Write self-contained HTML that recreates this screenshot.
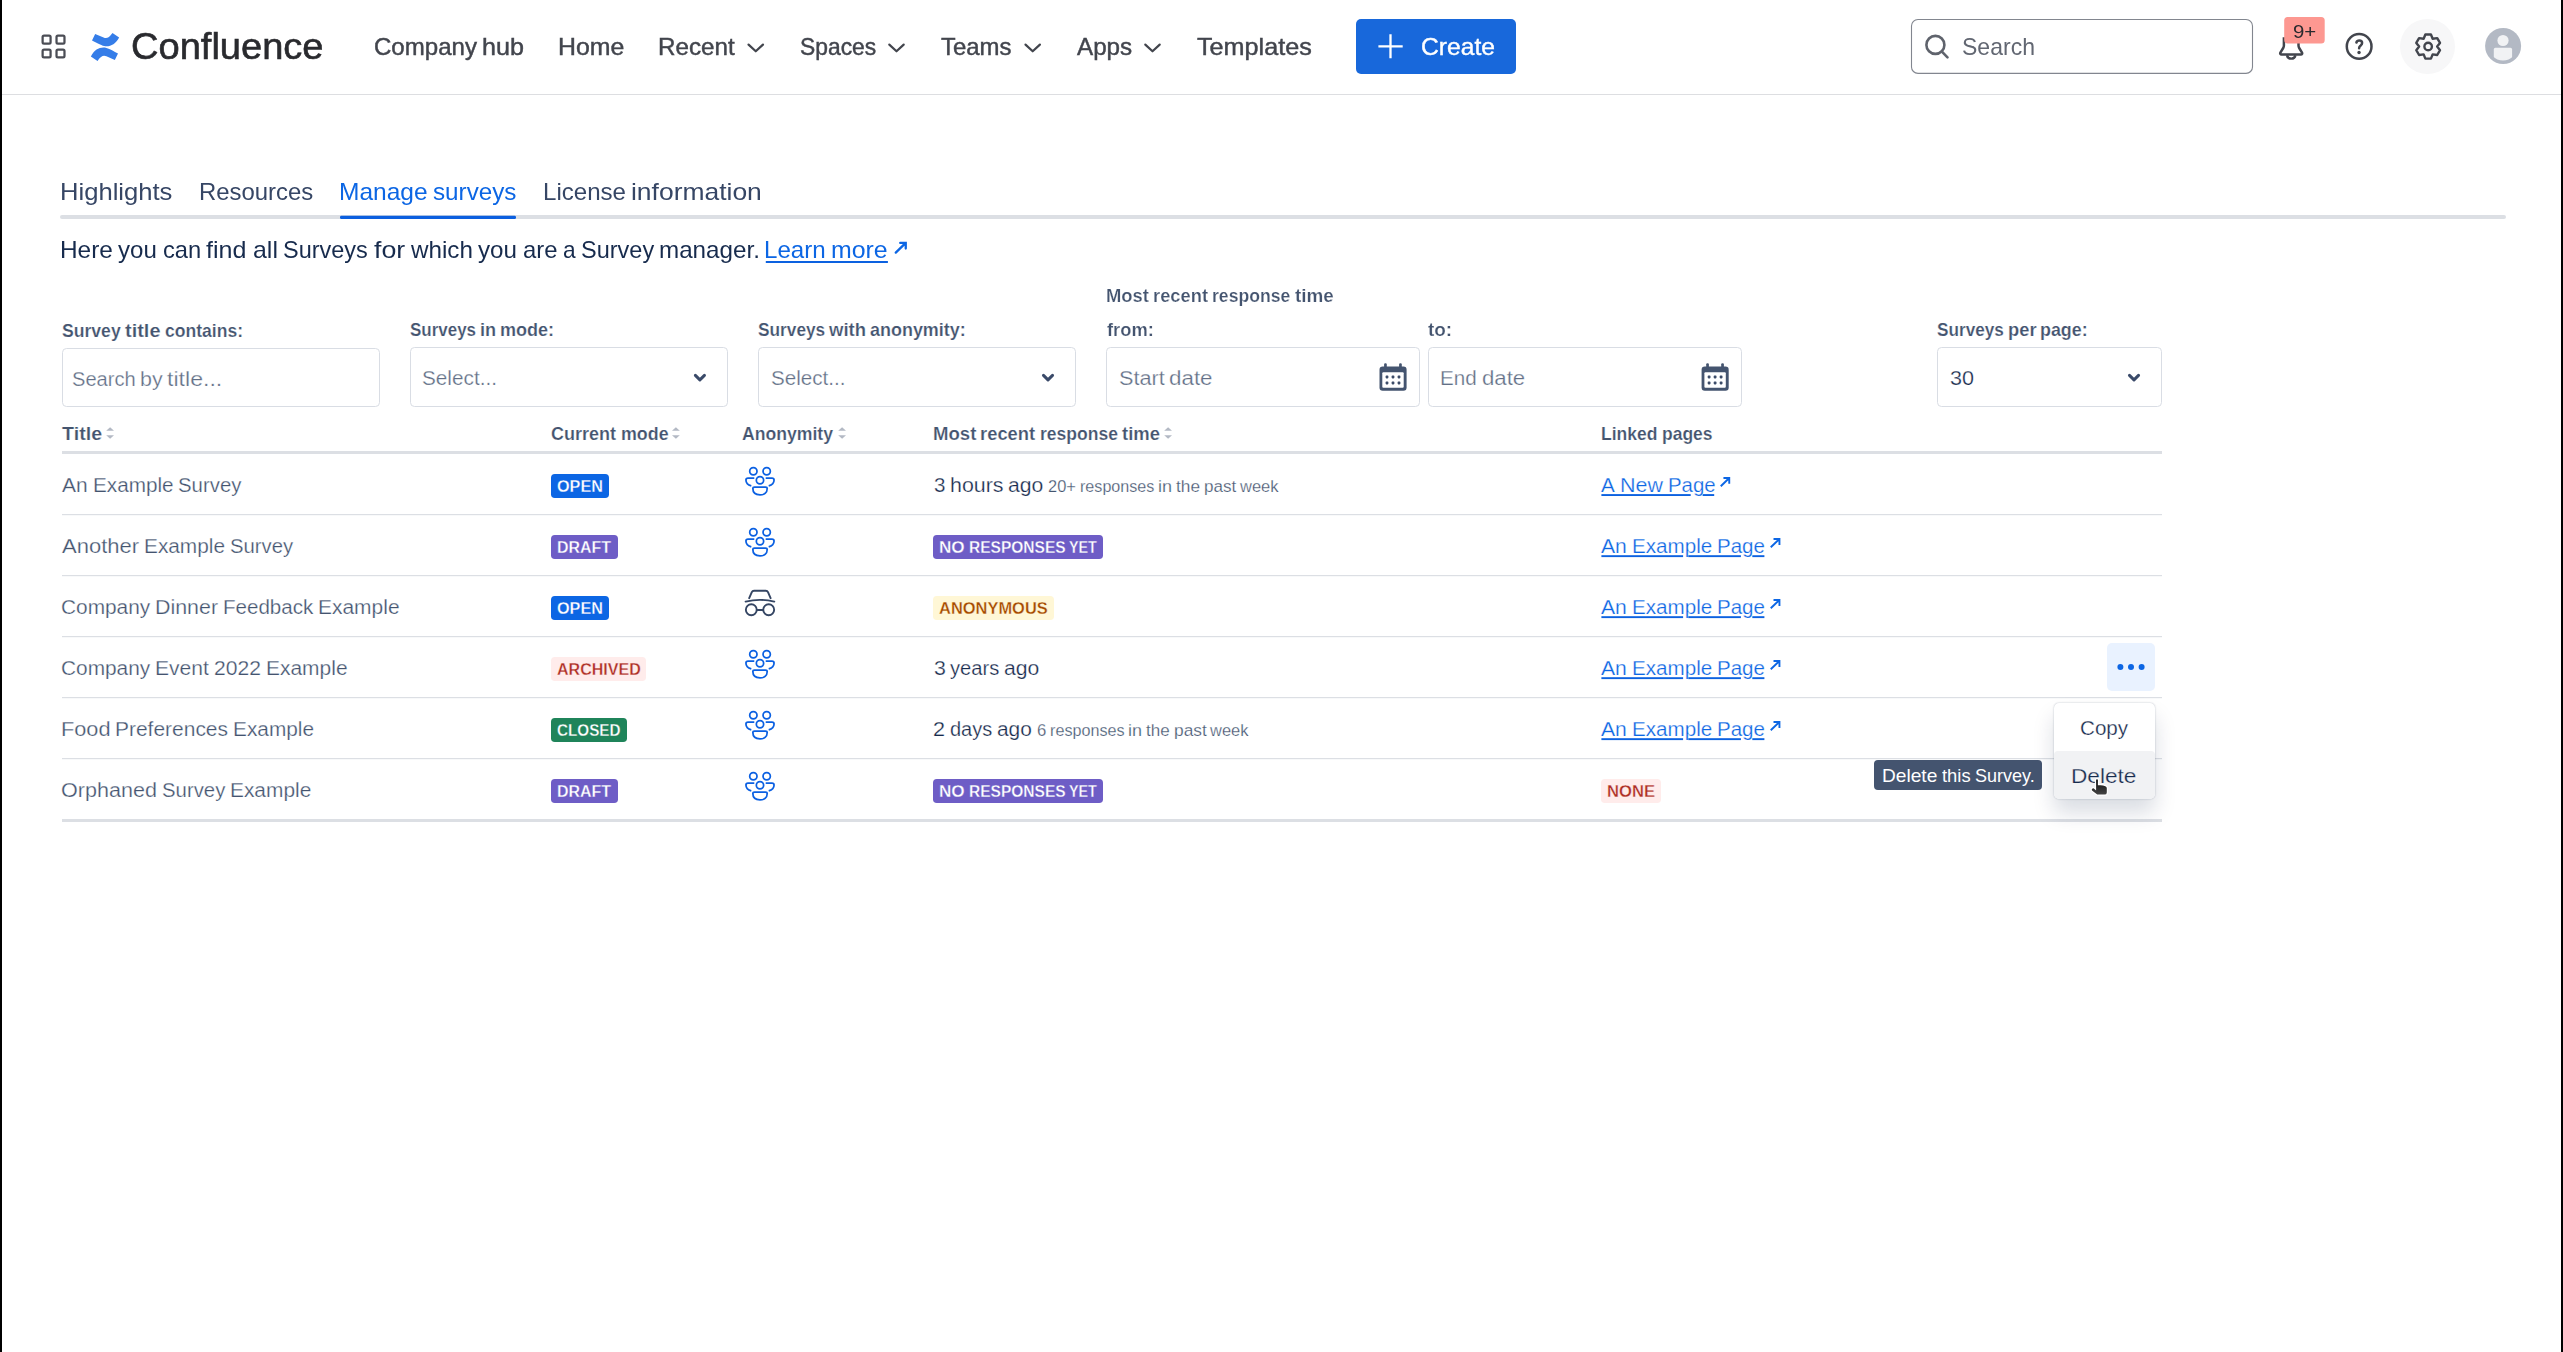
<!DOCTYPE html>
<html lang="en">
<head>
<meta charset="utf-8">
<title>Manage surveys - Confluence</title>
<style>
html,body{margin:0;padding:0;background:#fff;}
body{width:2563px;height:1352px;overflow:hidden;font-family:"Liberation Sans",sans-serif;}
#page{position:relative;width:2563px;height:1352px;overflow:hidden;background:#fff;}
.t{position:absolute;white-space:pre;line-height:1;transform-origin:0 0;font-family:"Liberation Sans",sans-serif;}
.a{position:absolute;}
.box{position:absolute;box-sizing:border-box;border:1.5px solid #d7dbe2;border-radius:5px;background:#fff;}
.bd{position:absolute;border-radius:4px;}
.ln{position:absolute;left:62px;width:2100px;height:1px;background:#dcdfe4;}
svg{position:absolute;overflow:visible;}
</style>
</head>
<body>
<div id="page">
<div class="a" style="left:0px;top:0px;width:2px;height:1352px;background:#000;"></div>
<div class="a" style="left:2561px;top:0px;width:2px;height:1352px;background:#000;"></div>
<div class="a" style="left:2px;top:94px;width:2559px;height:1px;background:#dddee1;"></div>
<svg width="2563" height="1352" viewBox="0 0 2563 1352" style="left:0;top:0" fill="none">
<rect x="42.625" y="35.675" width="7.95" height="7.95" rx="1.4" stroke="#4b4d55" stroke-width="2.25"/>
<rect x="56.525" y="35.675" width="7.95" height="7.95" rx="1.4" stroke="#4b4d55" stroke-width="2.25"/>
<rect x="42.625" y="49.525" width="7.95" height="7.95" rx="1.4" stroke="#4b4d55" stroke-width="2.25"/>
<rect x="56.525" y="49.525" width="7.95" height="7.95" rx="1.4" stroke="#4b4d55" stroke-width="2.25"/>
<path d="M95.15 33.97L103.6 37.6C106.6 38.9 109 37.9 112.5 33L119.15 37.5C115.6 43.6 111.6 46.3 106.5 46.3C103.6 46.3 100.5 44.8 92 40.4Z" fill="#357de8"/>
<path d="M95.15 33.97L103.6 37.6C106.6 38.9 109 37.9 112.5 33L119.15 37.5C115.6 43.6 111.6 46.3 106.5 46.3C103.6 46.3 100.5 44.8 92 40.4Z" fill="#357de8" transform="rotate(180 105 46.95)"/>
<polyline points="748.55,44.6 755.75,51.3 762.95,44.6" stroke="#42454d" stroke-width="2.2" stroke-linecap="round" stroke-linejoin="round"/>
<polyline points="889.3,44.6 896.5,51.3 903.7,44.6" stroke="#42454d" stroke-width="2.2" stroke-linecap="round" stroke-linejoin="round"/>
<polyline points="1025.5,44.6 1032.7,51.3 1039.9,44.6" stroke="#42454d" stroke-width="2.2" stroke-linecap="round" stroke-linejoin="round"/>
<polyline points="1145.3,44.6 1152.5,51.3 1159.7,44.6" stroke="#42454d" stroke-width="2.2" stroke-linecap="round" stroke-linejoin="round"/>
<rect x="1356" y="19" width="160" height="55" rx="5" fill="#1868db"/>
<path d="M1378.4 46.3H1402.7M1390.5 34.3V58.3" stroke="#fff" stroke-width="2.3"/>
<rect x="1911.5" y="19.5" width="341" height="53.9" rx="6.5" fill="#fff" stroke="#82868f" stroke-width="1.1"/>
<circle cx="1935.4" cy="44.9" r="9" stroke="#5f636c" stroke-width="2.6"/>
<path d="M1941.9 51.6L1947.5 57.3" stroke="#5f636c" stroke-width="2.6" stroke-linecap="round"/>
<path d="M2283.9 37.2V45.6C2283.9 46.6 2283.7 47.2 2283.2 48L2280.4 52.6C2279.9 53.5 2280.4 54.6 2281.5 54.6H2300.9C2302 54.6 2302.5 53.5 2302 52.6L2299.2 48C2298.7 47.2 2298.5 46.6 2298.5 45.6V37.2" stroke="#42454d" stroke-width="2.5" stroke-linejoin="round"/>
<path d="M2287 55.2A4.25 4.1 0 0 0 2295.4 55.2" stroke="#42454d" stroke-width="2.4"/>
<rect x="2284.2" y="16.9" width="40.5" height="26.7" rx="3.5" fill="#fd9891"/>
<circle cx="2359.15" cy="46.45" r="12.35" stroke="#42454d" stroke-width="2.5"/>
<path d="M2356.4 42.5C2356.8 41.3 2357.9 40.6 2359.3 40.6C2360.9 40.6 2362.1 41.6 2362.1 43C2362.1 44.3 2361.2 45 2360.3 45.9C2359.6 46.6 2359.1 47.2 2359.1 48.2" stroke="#42454d" stroke-width="2.5" stroke-linecap="round"/>
<circle cx="2359.05" cy="52.5" r="1.7" fill="#42454d"/>
<circle cx="2427.5" cy="46.5" r="27.5" fill="#f7f7f8"/>
<path d="M2425.36 34.47 L2430.94 34.47 L2432.65 38.76 L2437.22 38.09 L2440.01 42.92 L2437.15 46.55 L2440.01 50.18 L2437.22 55.01 L2432.65 54.34 L2430.94 58.63 L2425.36 58.63 L2423.65 54.34 L2419.08 55.01 L2416.29 50.18 L2419.15 46.55 L2416.29 42.92 L2419.08 38.09 L2423.65 38.76Z" stroke="#42454d" stroke-width="2.4" stroke-linejoin="round"/>
<circle cx="2428.15" cy="46.55" r="3.75" stroke="#42454d" stroke-width="2.4"/>
<clipPath id="av"><circle cx="2503" cy="46" r="14.6"/></clipPath>
<circle cx="2503.1" cy="46" r="18" fill="#b3b9c4"/>
<circle cx="2503" cy="40.5" r="5.6" fill="#f1f2f4"/>
<rect x="2493.8" y="47.8" width="18.3" height="20" rx="1.6" fill="#f1f2f4" clip-path="url(#av)"/>
<rect x="60" y="215" width="2446" height="4" rx="2" fill="#dcdfe4"/>
<rect x="340" y="215.8" width="176" height="3.3" rx="1.4" fill="#0b5fdf"/>
<path d="M895.75 252.65L905.75 242.95M900.22 242.95H905.75V248.48" stroke="#0c66e4" stroke-width="2.3" stroke-linejoin="miter" stroke-linecap="round"/>
<rect x="62.5" y="348.5" width="317" height="58" rx="4" fill="#fff" stroke="#d9dde4" stroke-width="1"/>
<rect x="410.5" y="347.5" width="317" height="59" rx="4" fill="#fff" stroke="#d9dde4" stroke-width="1"/>
<rect x="758.5" y="347.5" width="317" height="59" rx="4" fill="#fff" stroke="#d9dde4" stroke-width="1"/>
<rect x="1106.5" y="347.5" width="313" height="59" rx="4" fill="#fff" stroke="#d9dde4" stroke-width="1"/>
<rect x="1428.5" y="347.5" width="313" height="59" rx="4" fill="#fff" stroke="#d9dde4" stroke-width="1"/>
<rect x="1937.5" y="347.5" width="224" height="59" rx="4" fill="#fff" stroke="#d9dde4" stroke-width="1"/>
<polyline points="695.37,375.4 699.90,379.93 704.43,375.4" stroke="#3a4a69" stroke-width="3" stroke-linecap="round" stroke-linejoin="round"/>
<polyline points="1043.47,375.4 1048.00,379.93 1052.53,375.4" stroke="#3a4a69" stroke-width="3" stroke-linecap="round" stroke-linejoin="round"/>
<polyline points="2129.47,375.4 2134.00,379.93 2138.53,375.4" stroke="#3a4a69" stroke-width="3" stroke-linecap="round" stroke-linejoin="round"/>
<rect x="1379.5" y="366.5" width="27.1" height="24.3" rx="3.2" fill="#44546f"/>
<rect x="1382.3" y="372.2" width="21.4" height="15.6" rx="1" fill="#fff"/>
<rect x="1384.1" y="363.2" width="2.7" height="5" rx="1.2" fill="#44546f"/>
<rect x="1399.1" y="363.2" width="2.7" height="5" rx="1.2" fill="#44546f"/>
<rect x="1385.6" y="375.6" width="2.8" height="2.8" rx="0.8" fill="#3b4b68"/>
<rect x="1385.6" y="381.6" width="2.8" height="2.8" rx="0.8" fill="#3b4b68"/>
<rect x="1391.6" y="375.6" width="2.8" height="2.8" rx="0.8" fill="#3b4b68"/>
<rect x="1391.6" y="381.6" width="2.8" height="2.8" rx="0.8" fill="#3b4b68"/>
<rect x="1397.6" y="375.6" width="2.8" height="2.8" rx="0.8" fill="#3b4b68"/>
<rect x="1397.6" y="381.6" width="2.8" height="2.8" rx="0.8" fill="#3b4b68"/>
<rect x="1701.6" y="366.5" width="27.1" height="24.3" rx="3.2" fill="#44546f"/>
<rect x="1704.3999999999999" y="372.2" width="21.4" height="15.6" rx="1" fill="#fff"/>
<rect x="1706.1999999999998" y="363.2" width="2.7" height="5" rx="1.2" fill="#44546f"/>
<rect x="1721.1999999999998" y="363.2" width="2.7" height="5" rx="1.2" fill="#44546f"/>
<rect x="1707.7" y="375.6" width="2.8" height="2.8" rx="0.8" fill="#3b4b68"/>
<rect x="1707.7" y="381.6" width="2.8" height="2.8" rx="0.8" fill="#3b4b68"/>
<rect x="1713.7" y="375.6" width="2.8" height="2.8" rx="0.8" fill="#3b4b68"/>
<rect x="1713.7" y="381.6" width="2.8" height="2.8" rx="0.8" fill="#3b4b68"/>
<rect x="1719.7" y="375.6" width="2.8" height="2.8" rx="0.8" fill="#3b4b68"/>
<rect x="1719.7" y="381.6" width="2.8" height="2.8" rx="0.8" fill="#3b4b68"/>
<path d="M106.2 430.8L110.10000000000001 427.2L114.0 430.8Z" fill="#b3b9c4"/>
<path d="M106.2 435.2L110.10000000000001 438.8L114.0 435.2Z" fill="#b3b9c4"/>
<path d="M672 430.8L675.9 427.2L679.8 430.8Z" fill="#b3b9c4"/>
<path d="M672 435.2L675.9 438.8L679.8 435.2Z" fill="#b3b9c4"/>
<path d="M838.2 430.8L842.1 427.2L846.0 430.8Z" fill="#b3b9c4"/>
<path d="M838.2 435.2L842.1 438.8L846.0 435.2Z" fill="#b3b9c4"/>
<path d="M1164.2 430.8L1168.1000000000001 427.2L1172.0 430.8Z" fill="#b3b9c4"/>
<path d="M1164.2 435.2L1168.1000000000001 438.8L1172.0 435.2Z" fill="#b3b9c4"/>
<rect x="62" y="451" width="2100" height="3" fill="#dcdfe4"/>
<rect x="62" y="514" width="2100" height="1.2" fill="#dcdfe4"/>
<rect x="62" y="575" width="2100" height="1.2" fill="#dcdfe4"/>
<rect x="62" y="636" width="2100" height="1.2" fill="#dcdfe4"/>
<rect x="62" y="697" width="2100" height="1.2" fill="#dcdfe4"/>
<rect x="62" y="758" width="2100" height="1.2" fill="#dcdfe4"/>
<rect x="62" y="819" width="2100" height="3" fill="#dcdfe4"/>
<rect x="551" y="474.0" width="58" height="24" rx="3.8" fill="#0c66e4"/>
<rect x="551" y="535.0" width="67" height="24" rx="3.8" fill="#6e5dc6"/>
<rect x="551" y="596.0" width="58" height="24" rx="3.8" fill="#0c66e4"/>
<rect x="551" y="657.0" width="95" height="24" rx="3.8" fill="#ffeceb"/>
<rect x="551" y="718.0" width="76" height="24" rx="3.8" fill="#1f845a"/>
<rect x="551" y="779.0" width="67" height="24" rx="3.8" fill="#6e5dc6"/>
<rect x="933" y="535.0" width="170" height="24" rx="3.8" fill="#6e5dc6"/>
<rect x="933" y="596.0" width="121" height="24" rx="3.8" fill="#fff7d6"/>
<rect x="933" y="779.0" width="170" height="24" rx="3.8" fill="#6e5dc6"/>
<rect x="1601" y="779.0" width="60" height="24" rx="3.8" fill="#ffeceb"/>
<g transform="translate(744.9,466.9)" stroke="#0b60e2" stroke-width="1.75" stroke-linecap="butt"><circle cx="8.45" cy="4.4" r="3.65"/><circle cx="21.8" cy="4.4" r="3.65"/><circle cx="15.08" cy="13.37" r="3.65"/><path d="M9.4 11.1H3.1Q1.05 11.1 1.05 13.1C1.05 15.7 3.1 18.1 6.4 19.05"/><path d="M20.8 11.1H27.1Q29.15 11.1 29.15 13.1C29.15 15.7 27.1 18.1 23.8 19.05"/><path d="M9.6 20.1H20.6Q22.3 20.1 22.3 21.7C22.3 25.8 19.2 28 15.13 28C11 28 7.95 25.8 7.95 21.7Q7.95 20.1 9.6 20.1Z"/></g>
<g transform="translate(744.9,527.9)" stroke="#0b60e2" stroke-width="1.75" stroke-linecap="butt"><circle cx="8.45" cy="4.4" r="3.65"/><circle cx="21.8" cy="4.4" r="3.65"/><circle cx="15.08" cy="13.37" r="3.65"/><path d="M9.4 11.1H3.1Q1.05 11.1 1.05 13.1C1.05 15.7 3.1 18.1 6.4 19.05"/><path d="M20.8 11.1H27.1Q29.15 11.1 29.15 13.1C29.15 15.7 27.1 18.1 23.8 19.05"/><path d="M9.6 20.1H20.6Q22.3 20.1 22.3 21.7C22.3 25.8 19.2 28 15.13 28C11 28 7.95 25.8 7.95 21.7Q7.95 20.1 9.6 20.1Z"/></g>
<g transform="translate(744.9,649.9)" stroke="#0b60e2" stroke-width="1.75" stroke-linecap="butt"><circle cx="8.45" cy="4.4" r="3.65"/><circle cx="21.8" cy="4.4" r="3.65"/><circle cx="15.08" cy="13.37" r="3.65"/><path d="M9.4 11.1H3.1Q1.05 11.1 1.05 13.1C1.05 15.7 3.1 18.1 6.4 19.05"/><path d="M20.8 11.1H27.1Q29.15 11.1 29.15 13.1C29.15 15.7 27.1 18.1 23.8 19.05"/><path d="M9.6 20.1H20.6Q22.3 20.1 22.3 21.7C22.3 25.8 19.2 28 15.13 28C11 28 7.95 25.8 7.95 21.7Q7.95 20.1 9.6 20.1Z"/></g>
<g transform="translate(744.9,710.9)" stroke="#0b60e2" stroke-width="1.75" stroke-linecap="butt"><circle cx="8.45" cy="4.4" r="3.65"/><circle cx="21.8" cy="4.4" r="3.65"/><circle cx="15.08" cy="13.37" r="3.65"/><path d="M9.4 11.1H3.1Q1.05 11.1 1.05 13.1C1.05 15.7 3.1 18.1 6.4 19.05"/><path d="M20.8 11.1H27.1Q29.15 11.1 29.15 13.1C29.15 15.7 27.1 18.1 23.8 19.05"/><path d="M9.6 20.1H20.6Q22.3 20.1 22.3 21.7C22.3 25.8 19.2 28 15.13 28C11 28 7.95 25.8 7.95 21.7Q7.95 20.1 9.6 20.1Z"/></g>
<g transform="translate(744.9,771.9)" stroke="#0b60e2" stroke-width="1.75" stroke-linecap="butt"><circle cx="8.45" cy="4.4" r="3.65"/><circle cx="21.8" cy="4.4" r="3.65"/><circle cx="15.08" cy="13.37" r="3.65"/><path d="M9.4 11.1H3.1Q1.05 11.1 1.05 13.1C1.05 15.7 3.1 18.1 6.4 19.05"/><path d="M20.8 11.1H27.1Q29.15 11.1 29.15 13.1C29.15 15.7 27.1 18.1 23.8 19.05"/><path d="M9.6 20.1H20.6Q22.3 20.1 22.3 21.7C22.3 25.8 19.2 28 15.13 28C11 28 7.95 25.8 7.95 21.7Q7.95 20.1 9.6 20.1Z"/></g>
<g transform="translate(744.9,590.1)" stroke="#344563" stroke-width="1.9" stroke-linecap="round" stroke-linejoin="round"><path d="M4.3 8.1L6.9 2.1Q7.53 0.65 9.1 0.65H20.9Q22.47 0.65 23.1 2.1L25.7 8.1"/><path d="M0.7 11.5Q15.07 8 29.4 11.5"/><circle cx="6.4" cy="19.65" r="5.45"/><circle cx="23.8" cy="19.65" r="5.45"/><path d="M11.9 19.9H18.3"/></g>
<path d="M1720.75 486.25L1729.25 477.95M1723.43 477.95H1729.25V483.77" stroke="#0c66e4" stroke-width="1.9" stroke-linejoin="miter" stroke-linecap="butt"/>
<path d="M1770.75 547.25L1779.45 538.95M1773.51 538.95H1779.45V544.89" stroke="#0c66e4" stroke-width="1.9" stroke-linejoin="miter" stroke-linecap="butt"/>
<path d="M1770.75 608.25L1779.45 599.95M1773.51 599.95H1779.45V605.89" stroke="#0c66e4" stroke-width="1.9" stroke-linejoin="miter" stroke-linecap="butt"/>
<path d="M1770.75 669.25L1779.45 660.95M1773.51 660.95H1779.45V666.89" stroke="#0c66e4" stroke-width="1.9" stroke-linejoin="miter" stroke-linecap="butt"/>
<path d="M1770.75 730.25L1779.45 721.95M1773.51 721.95H1779.45V727.89" stroke="#0c66e4" stroke-width="1.9" stroke-linejoin="miter" stroke-linecap="butt"/>
<rect x="765.8" y="261" width="122.1" height="2" fill="#0c61e0"/>
<rect x="1601.4" y="494.1" width="89.3" height="1.9" fill="#0c61e0"/>
<rect x="1702.6" y="494.1" width="11.6" height="1.9" fill="#0c61e0"/>
<rect x="1601.4" y="555.2" width="81.7" height="1.9" fill="#0c61e0"/>
<rect x="1688.1" y="555.2" width="52.8" height="1.9" fill="#0c61e0"/>
<rect x="1752.3" y="555.2" width="12.1" height="1.9" fill="#0c61e0"/>
<rect x="1601.4" y="616.2" width="81.7" height="1.9" fill="#0c61e0"/>
<rect x="1688.1" y="616.2" width="52.8" height="1.9" fill="#0c61e0"/>
<rect x="1752.3" y="616.2" width="12.1" height="1.9" fill="#0c61e0"/>
<rect x="1601.4" y="677.2" width="81.7" height="1.9" fill="#0c61e0"/>
<rect x="1688.1" y="677.2" width="52.8" height="1.9" fill="#0c61e0"/>
<rect x="1752.3" y="677.2" width="12.1" height="1.9" fill="#0c61e0"/>
<rect x="1601.4" y="738.2" width="81.7" height="1.9" fill="#0c61e0"/>
<rect x="1688.1" y="738.2" width="52.8" height="1.9" fill="#0c61e0"/>
<rect x="1752.3" y="738.2" width="12.1" height="1.9" fill="#0c61e0"/>
<rect x="2107" y="643" width="48" height="48" rx="5" fill="#e9f2ff"/>
<circle cx="2120.4" cy="667" r="3" fill="#0c66e4"/>
<circle cx="2131" cy="667" r="3" fill="#0c66e4"/>
<circle cx="2141.6" cy="667" r="3" fill="#0c66e4"/>
</svg>
<div class="a" style="left:2054px;top:702.5px;width:101.2px;height:96.8px;border-radius:5px;background:#fff;box-shadow:0 0 1.75px rgba(9,30,66,.31),0 14px 21px rgba(9,30,66,.15);"></div>
<div class="a" style="left:2054px;top:751px;width:101px;height:48px;border-radius:4px 4px 5px 5px;background:#f1f2f4;"></div>
<div class="a" style="left:1874px;top:760px;width:167.8px;height:30px;border-radius:4px;background:#44546f;"></div>

<div style="position:absolute;left:0;top:0;width:2563px;height:290px;will-change:transform;">
<span class="t" style="left:130.87px;top:27.90px;font-size:37px;color:#292a2e;transform:scaleX(1.0285);-webkit-text-stroke:0.6px #292a2e;">Confluence</span>
<span class="t" style="left:373.78px;top:35.00px;font-size:24px;color:#42454d;transform:scaleX(1.0023);word-spacing:-1.176px;-webkit-text-stroke:0.45px #42454d;">Company </span>
<span class="t" style="left:482.16px;top:35.00px;font-size:24px;color:#42454d;transform:scaleX(1.0463);-webkit-text-stroke:0.45px #42454d;">hub</span>
<span class="t" style="left:557.56px;top:35.00px;font-size:24px;color:#42454d;transform:scaleX(1.0363);-webkit-text-stroke:0.45px #42454d;">Home</span>
<span class="t" style="left:658.02px;top:35.00px;font-size:24px;color:#42454d;transform:scaleX(1.0081);-webkit-text-stroke:0.45px #42454d;">Recent</span>
<span class="t" style="left:799.96px;top:35.00px;font-size:24px;color:#42454d;transform:scaleX(0.9514);-webkit-text-stroke:0.45px #42454d;">Spaces</span>
<span class="t" style="left:940.96px;top:35.00px;font-size:24px;color:#42454d;transform:scaleX(0.9974);-webkit-text-stroke:0.45px #42454d;">Teams</span>
<span class="t" style="left:1076.95px;top:35.00px;font-size:24px;color:#42454d;transform:scaleX(1.0076);-webkit-text-stroke:0.45px #42454d;">Apps</span>
<span class="t" style="left:1197.03px;top:35.00px;font-size:24px;color:#42454d;transform:scaleX(1.0493);-webkit-text-stroke:0.45px #42454d;">Templates</span>
<span class="t" style="left:1421.15px;top:35.00px;font-size:24px;color:#ffffff;transform:scaleX(1.0265);-webkit-text-stroke:0.4px #ffffff;">Create</span>
<span class="t" style="left:1961.95px;top:34.60px;font-size:24px;color:#626772;transform:scaleX(0.9592);">Search</span>
<span class="t" style="left:2292.74px;top:21.60px;font-size:19.2px;color:#292a2e;transform:scaleX(1.0634);">9+</span>
<span class="t" style="left:59.90px;top:180.00px;font-size:24px;color:#364665;transform:scaleX(1.0668);">Highlights</span>
<span class="t" style="left:198.84px;top:180.00px;font-size:24px;color:#364665;transform:scaleX(0.9957);">Resources</span>
<span class="t" style="left:338.99px;top:180.00px;font-size:24px;color:#0c66e4;transform:scaleX(1.0218);word-spacing:-1.176px;">Manage </span>
<span class="t" style="left:433.23px;top:180.00px;font-size:24px;color:#0c66e4;transform:scaleX(1.0092);">surveys</span>
<span class="t" style="left:543.13px;top:180.00px;font-size:24px;color:#364665;transform:scaleX(1.0028);word-spacing:-1.176px;">License </span>
<span class="t" style="left:631.43px;top:180.00px;font-size:24px;color:#364665;transform:scaleX(1.1016);">information</span>
<span class="t" style="left:60.00px;top:237.90px;font-size:24px;color:#172b4d;transform:scaleX(1.0162);word-spacing:-1.176px;">Here </span>
<span class="t" style="left:118.44px;top:237.90px;font-size:24px;color:#172b4d;transform:scaleX(1.0034);word-spacing:-1.176px;">you </span>
<span class="t" style="left:162.79px;top:237.90px;font-size:24px;color:#172b4d;transform:scaleX(0.9883);word-spacing:-1.176px;">can </span>
<span class="t" style="left:206.44px;top:237.90px;font-size:24px;color:#172b4d;transform:scaleX(1.0453);word-spacing:-1.176px;">find </span>
<span class="t" style="left:252.64px;top:237.90px;font-size:24px;color:#172b4d;transform:scaleX(1.0381);word-spacing:-1.176px;">all </span>
<span class="t" style="left:283.33px;top:237.90px;font-size:24px;color:#172b4d;transform:scaleX(0.9788);word-spacing:-1.176px;">Surveys </span>
<span class="t" style="left:373.52px;top:237.90px;font-size:24px;color:#172b4d;transform:scaleX(1.1140);word-spacing:-1.176px;">for </span>
<span class="t" style="left:410.84px;top:237.90px;font-size:24px;color:#172b4d;transform:scaleX(1.0098);word-spacing:-1.176px;">which </span>
<span class="t" style="left:478.34px;top:237.90px;font-size:24px;color:#172b4d;transform:scaleX(1.0078);word-spacing:-1.176px;">you </span>
<span class="t" style="left:522.89px;top:237.90px;font-size:24px;color:#172b4d;transform:scaleX(0.9955);word-spacing:-1.176px;">are </span>
<span class="t" style="left:562.93px;top:237.90px;font-size:24px;color:#172b4d;transform:scaleX(0.9466);word-spacing:-1.176px;">a </span>
<span class="t" style="left:580.73px;top:237.90px;font-size:24px;color:#172b4d;transform:scaleX(0.9790);word-spacing:-1.176px;">Survey </span>
<span class="t" style="left:659.19px;top:237.90px;font-size:24px;color:#172b4d;transform:scaleX(1.0085);">manager.</span>
<span class="t" style="left:763.82px;top:237.90px;font-size:24px;color:#0c66e4;transform:scaleX(1.0045);word-spacing:-1.176px;">Learn </span>
<span class="t" style="left:830.95px;top:237.90px;font-size:24px;color:#0c66e4;transform:scaleX(1.0361);">more</span>
</div>
<span class="t" style="left:61.99px;top:322.00px;font-size:18px;color:#44546f;transform:scaleX(0.9772);font-weight:700;word-spacing:-0.882px;-webkit-text-stroke:0.2px #fff;">Survey </span>
<span class="t" style="left:124.66px;top:322.00px;font-size:18px;color:#44546f;transform:scaleX(1.1092);font-weight:700;word-spacing:-0.882px;-webkit-text-stroke:0.2px #fff;">title </span>
<span class="t" style="left:164.81px;top:322.00px;font-size:18px;color:#44546f;transform:scaleX(0.9759);font-weight:700;-webkit-text-stroke:0.2px #fff;">contains:</span>
<span class="t" style="left:410.11px;top:321.00px;font-size:18px;color:#44546f;transform:scaleX(0.9425);font-weight:700;word-spacing:-0.882px;-webkit-text-stroke:0.2px #fff;">Surveys </span>
<span class="t" style="left:479.93px;top:321.00px;font-size:18px;color:#44546f;transform:scaleX(1.0077);font-weight:700;word-spacing:-0.882px;-webkit-text-stroke:0.2px #fff;">in </span>
<span class="t" style="left:500.21px;top:321.00px;font-size:18px;color:#44546f;transform:scaleX(1.0023);font-weight:700;-webkit-text-stroke:0.2px #fff;">mode:</span>
<span class="t" style="left:757.90px;top:321.00px;font-size:18px;color:#44546f;transform:scaleX(0.9593);font-weight:700;word-spacing:-0.882px;-webkit-text-stroke:0.2px #fff;">Surveys </span>
<span class="t" style="left:829.05px;top:321.00px;font-size:18px;color:#44546f;transform:scaleX(1.0273);font-weight:700;word-spacing:-0.882px;-webkit-text-stroke:0.2px #fff;">with </span>
<span class="t" style="left:870.27px;top:321.00px;font-size:18px;color:#44546f;transform:scaleX(0.9973);font-weight:700;-webkit-text-stroke:0.2px #fff;">anonymity:</span>
<span class="t" style="left:1105.67px;top:287.30px;font-size:18px;color:#44546f;transform:scaleX(1.0218);font-weight:700;word-spacing:-0.882px;-webkit-text-stroke:0.2px #fff;">Most </span>
<span class="t" style="left:1152.79px;top:287.30px;font-size:18px;color:#44546f;transform:scaleX(1.0199);font-weight:700;word-spacing:-0.882px;-webkit-text-stroke:0.2px #fff;">recent </span>
<span class="t" style="left:1212.14px;top:287.30px;font-size:18px;color:#44546f;transform:scaleX(0.9797);font-weight:700;word-spacing:-0.882px;-webkit-text-stroke:0.2px #fff;">response </span>
<span class="t" style="left:1294.57px;top:287.30px;font-size:18px;color:#44546f;transform:scaleX(1.0477);font-weight:700;-webkit-text-stroke:0.2px #fff;">time</span>
<span class="t" style="left:1106.59px;top:320.80px;font-size:18px;color:#44546f;transform:scaleX(1.0170);font-weight:700;-webkit-text-stroke:0.2px #fff;">from:</span>
<span class="t" style="left:1428.17px;top:320.80px;font-size:18px;color:#44546f;transform:scaleX(1.0508);font-weight:700;-webkit-text-stroke:0.2px #fff;">to:</span>
<span class="t" style="left:1937.01px;top:321.00px;font-size:18px;color:#44546f;transform:scaleX(0.9541);font-weight:700;word-spacing:-0.882px;-webkit-text-stroke:0.2px #fff;">Surveys </span>
<span class="t" style="left:2007.69px;top:321.00px;font-size:18px;color:#44546f;transform:scaleX(1.0177);font-weight:700;word-spacing:-0.882px;-webkit-text-stroke:0.2px #fff;">per </span>
<span class="t" style="left:2040.42px;top:321.00px;font-size:18px;color:#44546f;transform:scaleX(0.9936);font-weight:700;-webkit-text-stroke:0.2px #fff;">page:</span>
<span class="t" style="left:71.69px;top:369.20px;font-size:20px;color:#626f86;transform:scaleX(1.0055);word-spacing:-0.980px;-webkit-text-stroke:0.25px #fff;">Search </span>
<span class="t" style="left:139.92px;top:369.20px;font-size:20px;color:#626f86;transform:scaleX(1.0723);word-spacing:-0.980px;-webkit-text-stroke:0.25px #fff;">by </span>
<span class="t" style="left:167.45px;top:369.20px;font-size:20px;color:#626f86;transform:scaleX(1.1563);-webkit-text-stroke:0.25px #fff;">title...</span>
<span class="t" style="left:422.46px;top:368.00px;font-size:20px;color:#626f86;transform:scaleX(1.0371);-webkit-text-stroke:0.25px #fff;">Select...</span>
<span class="t" style="left:770.76px;top:368.00px;font-size:20px;color:#626f86;transform:scaleX(1.0299);-webkit-text-stroke:0.25px #fff;">Select...</span>
<span class="t" style="left:1118.71px;top:368.00px;font-size:20px;color:#626f86;transform:scaleX(1.0846);word-spacing:-0.980px;-webkit-text-stroke:0.25px #fff;">Start </span>
<span class="t" style="left:1169.46px;top:368.00px;font-size:20px;color:#626f86;transform:scaleX(1.1184);-webkit-text-stroke:0.25px #fff;">date</span>
<span class="t" style="left:1440.31px;top:368.00px;font-size:20px;color:#626f86;transform:scaleX(1.0315);word-spacing:-0.980px;-webkit-text-stroke:0.25px #fff;">End </span>
<span class="t" style="left:1481.67px;top:368.00px;font-size:20px;color:#626f86;transform:scaleX(1.1103);-webkit-text-stroke:0.25px #fff;">date</span>
<span class="t" style="left:1950.08px;top:368.20px;font-size:20px;color:#172b4d;transform:scaleX(1.0771);-webkit-text-stroke:0.25px #fff;">30</span>
<span class="t" style="left:61.78px;top:424.70px;font-size:18px;color:#44546f;transform:scaleX(1.0932);font-weight:700;-webkit-text-stroke:0.2px #fff;">Title</span>
<span class="t" style="left:551.46px;top:424.70px;font-size:18px;color:#44546f;transform:scaleX(1.0019);font-weight:700;word-spacing:-0.882px;-webkit-text-stroke:0.2px #fff;">Current </span>
<span class="t" style="left:620.72px;top:424.70px;font-size:18px;color:#44546f;transform:scaleX(0.9913);font-weight:700;-webkit-text-stroke:0.2px #fff;">mode</span>
<span class="t" style="left:742.46px;top:424.70px;font-size:18px;color:#44546f;transform:scaleX(0.9788);font-weight:700;-webkit-text-stroke:0.2px #fff;">Anonymity</span>
<span class="t" style="left:932.76px;top:424.70px;font-size:18px;color:#44546f;transform:scaleX(1.0326);font-weight:700;word-spacing:-0.882px;-webkit-text-stroke:0.2px #fff;">Most </span>
<span class="t" style="left:980.39px;top:424.70px;font-size:18px;color:#44546f;transform:scaleX(1.0216);font-weight:700;word-spacing:-0.882px;-webkit-text-stroke:0.2px #fff;">recent </span>
<span class="t" style="left:1039.84px;top:424.70px;font-size:18px;color:#44546f;transform:scaleX(0.9749);font-weight:700;word-spacing:-0.882px;-webkit-text-stroke:0.2px #fff;">response </span>
<span class="t" style="left:1121.87px;top:424.70px;font-size:18px;color:#44546f;transform:scaleX(1.0255);font-weight:700;-webkit-text-stroke:0.2px #fff;">time</span>
<span class="t" style="left:1601.03px;top:424.70px;font-size:18px;color:#44546f;transform:scaleX(0.9741);font-weight:700;word-spacing:-0.882px;-webkit-text-stroke:0.2px #fff;">Linked </span>
<span class="t" style="left:1661.55px;top:424.70px;font-size:18px;color:#44546f;transform:scaleX(0.9721);font-weight:700;-webkit-text-stroke:0.2px #fff;">pages</span>
<span class="t" style="left:62.06px;top:475.10px;font-size:20px;color:#44546f;transform:scaleX(1.0476);word-spacing:-0.980px;-webkit-text-stroke:0.25px #fff;">An </span>
<span class="t" style="left:92.50px;top:475.10px;font-size:20px;color:#44546f;transform:scaleX(1.0354);word-spacing:-0.980px;-webkit-text-stroke:0.25px #fff;">Example </span>
<span class="t" style="left:177.82px;top:475.10px;font-size:20px;color:#44546f;transform:scaleX(1.0188);-webkit-text-stroke:0.25px #fff;">Survey</span>
<span class="t" style="left:62.06px;top:536.10px;font-size:20px;color:#44546f;transform:scaleX(1.1007);word-spacing:-0.980px;-webkit-text-stroke:0.25px #fff;">Another </span>
<span class="t" style="left:144.29px;top:536.10px;font-size:20px;color:#44546f;transform:scaleX(1.0409);word-spacing:-0.980px;-webkit-text-stroke:0.25px #fff;">Example </span>
<span class="t" style="left:230.08px;top:536.10px;font-size:20px;color:#44546f;transform:scaleX(1.0147);-webkit-text-stroke:0.25px #fff;">Survey</span>
<span class="t" style="left:61.24px;top:597.00px;font-size:20px;color:#44546f;transform:scaleX(1.0419);word-spacing:-0.980px;-webkit-text-stroke:0.25px #fff;">Company </span>
<span class="t" style="left:155.15px;top:597.00px;font-size:20px;color:#44546f;transform:scaleX(1.0694);word-spacing:-0.980px;-webkit-text-stroke:0.25px #fff;">Dinner </span>
<span class="t" style="left:223.12px;top:597.00px;font-size:20px;color:#44546f;transform:scaleX(1.0270);word-spacing:-0.980px;-webkit-text-stroke:0.25px #fff;">Feedback </span>
<span class="t" style="left:317.98px;top:597.00px;font-size:20px;color:#44546f;transform:scaleX(1.0480);-webkit-text-stroke:0.25px #fff;">Example</span>
<span class="t" style="left:61.24px;top:658.10px;font-size:20px;color:#44546f;transform:scaleX(1.0419);word-spacing:-0.980px;-webkit-text-stroke:0.25px #fff;">Company </span>
<span class="t" style="left:155.17px;top:658.10px;font-size:20px;color:#44546f;transform:scaleX(1.0547);word-spacing:-0.980px;-webkit-text-stroke:0.25px #fff;">Event </span>
<span class="t" style="left:213.94px;top:658.10px;font-size:20px;color:#44546f;transform:scaleX(1.0542);word-spacing:-0.980px;-webkit-text-stroke:0.25px #fff;">2022 </span>
<span class="t" style="left:265.68px;top:658.10px;font-size:20px;color:#44546f;transform:scaleX(1.0480);-webkit-text-stroke:0.25px #fff;">Example</span>
<span class="t" style="left:60.52px;top:719.20px;font-size:20px;color:#44546f;transform:scaleX(1.0865);word-spacing:-0.980px;-webkit-text-stroke:0.25px #fff;">Food </span>
<span class="t" style="left:115.08px;top:719.20px;font-size:20px;color:#44546f;transform:scaleX(1.0480);word-spacing:-0.980px;-webkit-text-stroke:0.25px #fff;">Preferences </span>
<span class="t" style="left:232.89px;top:719.20px;font-size:20px;color:#44546f;transform:scaleX(1.0414);-webkit-text-stroke:0.25px #fff;">Example</span>
<span class="t" style="left:61.28px;top:780.00px;font-size:20px;color:#44546f;transform:scaleX(1.0782);word-spacing:-0.980px;-webkit-text-stroke:0.25px #fff;">Orphaned </span>
<span class="t" style="left:162.18px;top:780.00px;font-size:20px;color:#44546f;transform:scaleX(1.0169);word-spacing:-0.980px;-webkit-text-stroke:0.25px #fff;">Survey </span>
<span class="t" style="left:230.09px;top:780.00px;font-size:20px;color:#44546f;transform:scaleX(1.0441);-webkit-text-stroke:0.25px #fff;">Example</span>
<span class="t" style="left:557.33px;top:478.00px;font-size:16.5px;color:#ffffff;transform:scaleX(0.9828);font-weight:700;-webkit-text-stroke:0.3px #0c66e4;">OPEN</span>
<span class="t" style="left:557.13px;top:539.00px;font-size:16.5px;color:#ffffff;transform:scaleX(0.9666);font-weight:700;-webkit-text-stroke:0.3px #6e5dc6;">DRAFT</span>
<span class="t" style="left:557.33px;top:600.00px;font-size:16.5px;color:#ffffff;transform:scaleX(0.9828);font-weight:700;-webkit-text-stroke:0.3px #0c66e4;">OPEN</span>
<span class="t" style="left:556.90px;top:661.00px;font-size:16.5px;color:#ae2e24;transform:scaleX(0.9721);font-weight:700;-webkit-text-stroke:0.3px #ffeceb;">ARCHIVED</span>
<span class="t" style="left:557.38px;top:722.00px;font-size:16.5px;color:#ffffff;transform:scaleX(0.9230);font-weight:700;-webkit-text-stroke:0.3px #1f845a;">CLOSED</span>
<span class="t" style="left:557.13px;top:783.00px;font-size:16.5px;color:#ffffff;transform:scaleX(0.9666);font-weight:700;-webkit-text-stroke:0.3px #6e5dc6;">DRAFT</span>
<span class="t" style="left:933.62px;top:475.00px;font-size:20px;color:#172b4d;transform:scaleX(1.0291);word-spacing:-0.980px;-webkit-text-stroke:0.25px #fff;">3 </span>
<span class="t" style="left:949.72px;top:475.00px;font-size:20px;color:#172b4d;transform:scaleX(1.0690);word-spacing:-0.980px;-webkit-text-stroke:0.25px #fff;">hours </span>
<span class="t" style="left:1008.10px;top:475.00px;font-size:20px;color:#172b4d;transform:scaleX(1.0575);-webkit-text-stroke:0.25px #fff;">ago</span>
<span class="t" style="left:1047.97px;top:479.00px;font-size:16.8px;color:#44546f;transform:scaleX(0.9793);word-spacing:-0.823px;-webkit-text-stroke:0.25px #fff;">20+ </span>
<span class="t" style="left:1079.63px;top:479.00px;font-size:16.8px;color:#44546f;transform:scaleX(0.9610);word-spacing:-0.823px;-webkit-text-stroke:0.25px #fff;">responses </span>
<span class="t" style="left:1157.59px;top:479.00px;font-size:16.8px;color:#44546f;transform:scaleX(1.0729);word-spacing:-0.823px;-webkit-text-stroke:0.25px #fff;">in </span>
<span class="t" style="left:1175.74px;top:479.00px;font-size:16.8px;color:#44546f;transform:scaleX(1.0287);word-spacing:-0.823px;-webkit-text-stroke:0.25px #fff;">the </span>
<span class="t" style="left:1203.70px;top:479.00px;font-size:16.8px;color:#44546f;transform:scaleX(1.0189);word-spacing:-0.823px;-webkit-text-stroke:0.25px #fff;">past </span>
<span class="t" style="left:1239.92px;top:479.00px;font-size:16.8px;color:#44546f;transform:scaleX(0.9841);-webkit-text-stroke:0.25px #fff;">week</span>
<span class="t" style="left:938.85px;top:539.00px;font-size:16.5px;color:#ffffff;transform:scaleX(1.0377);font-weight:700;word-spacing:-0.808px;-webkit-text-stroke:0.3px #6e5dc6;">NO </span>
<span class="t" style="left:968.56px;top:539.00px;font-size:16.5px;color:#ffffff;transform:scaleX(0.9408);font-weight:700;word-spacing:-0.808px;-webkit-text-stroke:0.3px #6e5dc6;">RESPONSES </span>
<span class="t" style="left:1068.76px;top:539.00px;font-size:16.5px;color:#ffffff;transform:scaleX(0.8663);font-weight:700;-webkit-text-stroke:0.3px #6e5dc6;">YET</span>
<span class="t" style="left:939.09px;top:600.00px;font-size:16.5px;color:#a54800;transform:scaleX(0.9969);font-weight:700;-webkit-text-stroke:0.3px #fff7d6;">ANONYMOUS</span>
<span class="t" style="left:933.59px;top:657.80px;font-size:20px;color:#172b4d;transform:scaleX(1.0676);word-spacing:-0.980px;-webkit-text-stroke:0.25px #fff;">3 </span>
<span class="t" style="left:950.35px;top:657.80px;font-size:20px;color:#172b4d;transform:scaleX(1.0077);word-spacing:-0.980px;-webkit-text-stroke:0.25px #fff;">years </span>
<span class="t" style="left:1004.20px;top:657.80px;font-size:20px;color:#172b4d;transform:scaleX(1.0575);-webkit-text-stroke:0.25px #fff;">ago</span>
<span class="t" style="left:933.31px;top:718.80px;font-size:20px;color:#172b4d;transform:scaleX(1.0815);word-spacing:-0.980px;-webkit-text-stroke:0.25px #fff;">2 </span>
<span class="t" style="left:950.36px;top:718.80px;font-size:20px;color:#172b4d;transform:scaleX(0.9993);word-spacing:-0.980px;-webkit-text-stroke:0.25px #fff;">days </span>
<span class="t" style="left:997.11px;top:718.80px;font-size:20px;color:#172b4d;transform:scaleX(1.0448);-webkit-text-stroke:0.25px #fff;">ago</span>
<span class="t" style="left:1036.55px;top:722.80px;font-size:16.8px;color:#44546f;transform:scaleX(0.9974);word-spacing:-0.823px;-webkit-text-stroke:0.25px #fff;">6 </span>
<span class="t" style="left:1049.73px;top:722.80px;font-size:16.8px;color:#44546f;transform:scaleX(0.9634);word-spacing:-0.823px;-webkit-text-stroke:0.25px #fff;">responses </span>
<span class="t" style="left:1127.89px;top:722.80px;font-size:16.8px;color:#44546f;transform:scaleX(1.0729);word-spacing:-0.823px;-webkit-text-stroke:0.25px #fff;">in </span>
<span class="t" style="left:1146.04px;top:722.80px;font-size:16.8px;color:#44546f;transform:scaleX(1.0144);word-spacing:-0.823px;-webkit-text-stroke:0.25px #fff;">the </span>
<span class="t" style="left:1173.58px;top:722.80px;font-size:16.8px;color:#44546f;transform:scaleX(1.0334);word-spacing:-0.823px;-webkit-text-stroke:0.25px #fff;">past </span>
<span class="t" style="left:1210.32px;top:722.80px;font-size:16.8px;color:#44546f;transform:scaleX(0.9815);-webkit-text-stroke:0.25px #fff;">week</span>
<span class="t" style="left:938.85px;top:783.00px;font-size:16.5px;color:#ffffff;transform:scaleX(1.0377);font-weight:700;word-spacing:-0.808px;-webkit-text-stroke:0.3px #6e5dc6;">NO </span>
<span class="t" style="left:968.56px;top:783.00px;font-size:16.5px;color:#ffffff;transform:scaleX(0.9408);font-weight:700;word-spacing:-0.808px;-webkit-text-stroke:0.3px #6e5dc6;">RESPONSES </span>
<span class="t" style="left:1068.76px;top:783.00px;font-size:16.5px;color:#ffffff;transform:scaleX(0.8663);font-weight:700;-webkit-text-stroke:0.3px #6e5dc6;">YET</span>
<span class="t" style="left:1601.36px;top:475.10px;font-size:20px;color:#0c66e4;transform:scaleX(1.0298);word-spacing:-0.980px;-webkit-text-stroke:0.25px #fff;">A </span>
<span class="t" style="left:1619.74px;top:475.10px;font-size:20px;color:#0c66e4;transform:scaleX(1.0721);word-spacing:-0.980px;-webkit-text-stroke:0.25px #fff;">New </span>
<span class="t" style="left:1667.63px;top:475.10px;font-size:20px;color:#0c66e4;transform:scaleX(1.0208);-webkit-text-stroke:0.25px #fff;">Page</span>
<span class="t" style="left:1601.36px;top:536.10px;font-size:20px;color:#0c66e4;transform:scaleX(1.0574);word-spacing:-0.980px;-webkit-text-stroke:0.25px #fff;">An </span>
<span class="t" style="left:1632.11px;top:536.10px;font-size:20px;color:#0c66e4;transform:scaleX(1.0305);word-spacing:-0.980px;-webkit-text-stroke:0.25px #fff;">Example </span>
<span class="t" style="left:1717.02px;top:536.10px;font-size:20px;color:#0c66e4;transform:scaleX(1.0254);-webkit-text-stroke:0.25px #fff;">Page</span>
<span class="t" style="left:1601.36px;top:597.10px;font-size:20px;color:#0c66e4;transform:scaleX(1.0574);word-spacing:-0.980px;-webkit-text-stroke:0.25px #fff;">An </span>
<span class="t" style="left:1632.11px;top:597.10px;font-size:20px;color:#0c66e4;transform:scaleX(1.0305);word-spacing:-0.980px;-webkit-text-stroke:0.25px #fff;">Example </span>
<span class="t" style="left:1717.02px;top:597.10px;font-size:20px;color:#0c66e4;transform:scaleX(1.0254);-webkit-text-stroke:0.25px #fff;">Page</span>
<span class="t" style="left:1601.36px;top:658.10px;font-size:20px;color:#0c66e4;transform:scaleX(1.0574);word-spacing:-0.980px;-webkit-text-stroke:0.25px #fff;">An </span>
<span class="t" style="left:1632.11px;top:658.10px;font-size:20px;color:#0c66e4;transform:scaleX(1.0305);word-spacing:-0.980px;-webkit-text-stroke:0.25px #fff;">Example </span>
<span class="t" style="left:1717.02px;top:658.10px;font-size:20px;color:#0c66e4;transform:scaleX(1.0254);-webkit-text-stroke:0.25px #fff;">Page</span>
<span class="t" style="left:1601.36px;top:719.10px;font-size:20px;color:#0c66e4;transform:scaleX(1.0574);word-spacing:-0.980px;-webkit-text-stroke:0.25px #fff;">An </span>
<span class="t" style="left:1632.11px;top:719.10px;font-size:20px;color:#0c66e4;transform:scaleX(1.0305);word-spacing:-0.980px;-webkit-text-stroke:0.25px #fff;">Example </span>
<span class="t" style="left:1717.02px;top:719.10px;font-size:20px;color:#0c66e4;transform:scaleX(1.0254);-webkit-text-stroke:0.25px #fff;">Page</span>
<span class="t" style="left:1606.79px;top:783.00px;font-size:16.5px;color:#ae2e24;transform:scaleX(1.0082);font-weight:700;-webkit-text-stroke:0.3px #ffeceb;">NONE</span>
<span class="t" style="left:2080.15px;top:717.80px;font-size:20px;color:#172b4d;transform:scaleX(1.0299);-webkit-text-stroke:0.25px #fff;">Copy</span>
<span class="t" style="left:2071.44px;top:765.70px;font-size:20px;color:#172b4d;transform:scaleX(1.1324);-webkit-text-stroke:0.25px #f1f2f4;">Delete</span>
<span class="t" style="left:1882.13px;top:767.10px;font-size:18.5px;color:#ffffff;transform:scaleX(1.0341);word-spacing:-0.907px;">Delete </span>
<span class="t" style="left:1941.82px;top:767.10px;font-size:18.5px;color:#ffffff;transform:scaleX(0.9946);word-spacing:-0.907px;">this </span>
<span class="t" style="left:1974.68px;top:767.10px;font-size:18.5px;color:#ffffff;transform:scaleX(0.9742);">Survey.</span>
<svg width="2563" height="1352" viewBox="0 0 2563 1352" style="left:0;top:0"><defs><linearGradient id="cg" x1="0" y1="0" x2="0" y2="1"><stop offset="0" stop-color="#0c0c0c"/><stop offset="1" stop-color="#454545"/></linearGradient></defs><path d="M2096.1 780.2Q2096.1 779.2 2097 779.2Q2097.9 779.2 2097.9 780.2V785.3L2100.3 785.2L2103 785.5L2105.3 786.2Q2106.8 786.8 2106.8 788.3V792.4Q2106.8 794.6 2104.6 794.6H2098Q2097.2 794.6 2096.6 794L2092 790.4Q2091.4 789.6 2092.2 788.8Q2093 788 2093.9 788.6L2096.1 790.5Z" fill="url(#cg)" stroke="#fff" stroke-width="2.4" stroke-linejoin="round" paint-order="stroke"/></svg>
</div>
</body>
</html>
